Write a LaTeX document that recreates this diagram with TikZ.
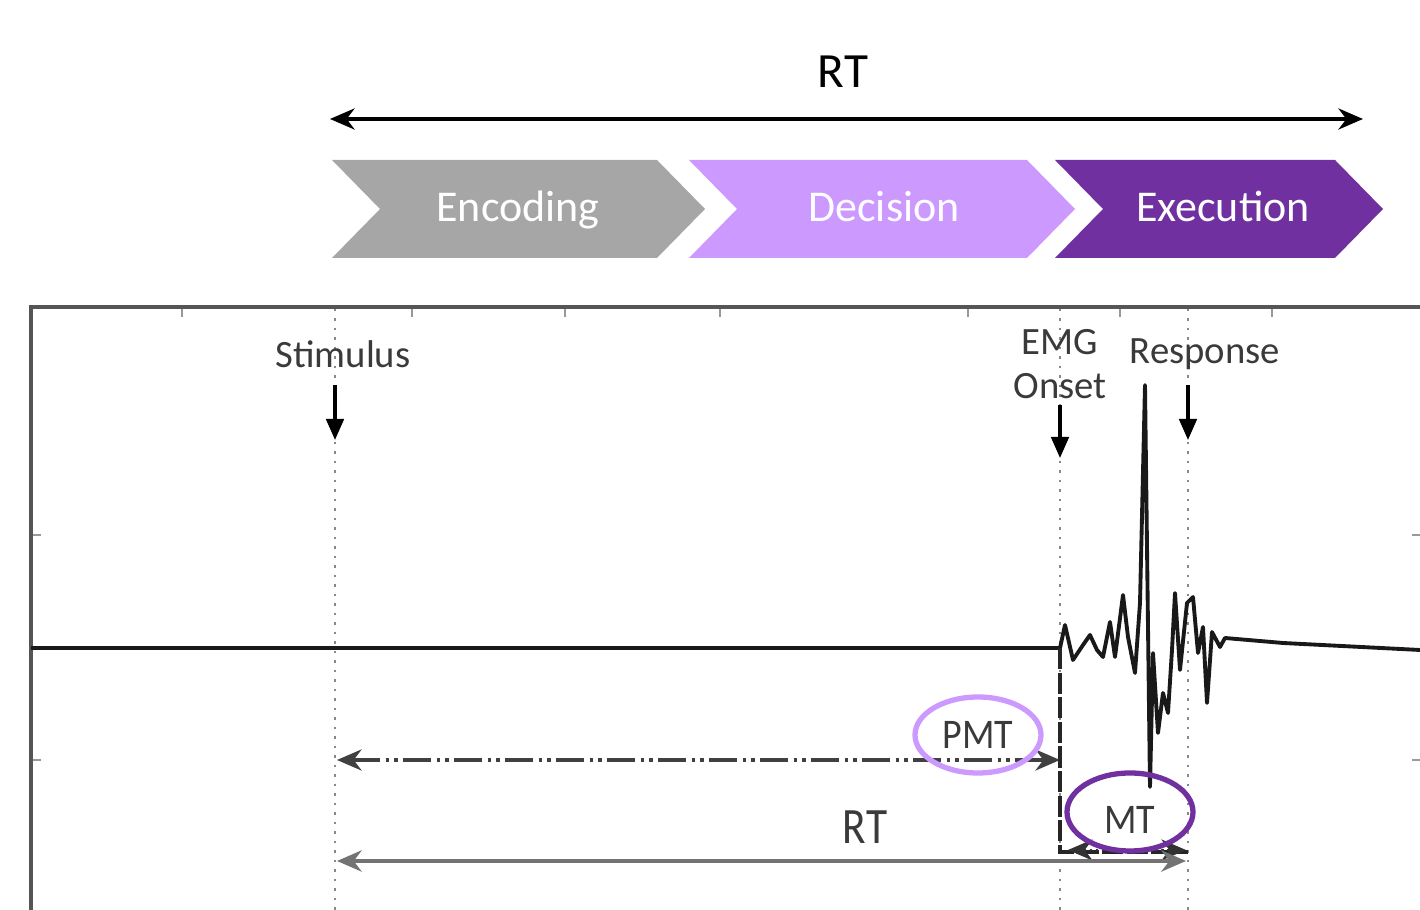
\documentclass[tikz,border=0pt]{standalone}
\usepackage{fontspec}
\setmainfont{Carlito}
\usetikzlibrary{positioning}
\usetikzlibrary{arrows.meta}
\definecolor{encgray}{HTML}{A6A6A6}
\definecolor{declilac}{HTML}{CC99FF}
\definecolor{exepurple}{HTML}{7030A0}
\definecolor{framegray}{HTML}{555555}
\definecolor{labelgray}{HTML}{3A3A3A}

\begin{document}
\begin{tikzpicture}[x=0.01cm, y=-0.01cm,
  phase/.style={text=white, font=\fontsize{12.5}{14}\selectfont},
  marker/.style={text=labelgray, font=\fontsize{11}{12}\selectfont, inner sep=0pt},
  dotline/.style={framegray!70, dotted, line width=0.7pt},
  tickmark/.style={framegray!60, line width=0.5pt},
  downarrow/.style={-{Triangle[length=6pt,width=5pt]}, black, line width=0.9pt},
  span/.style={{Stealth[length=7pt,width=6pt]}-{Stealth[length=7pt,width=6pt]}, line width=1pt}]
\useasboundingbox (0,0) rectangle (1420,910);

%%%%%%%%%%%%     Top RT span   %%%%%%%%%%%%
{
\node (rttop) at (843,72) [font=\fontsize{14}{16}\selectfont]{RT};
\coordinate (rtL) at (330,119);
\coordinate (rtR) at (1363,119);
\draw[span, black, line width=1pt] (rtL)--(rtR);
}

%%%%%%%%%%%%     Phases   %%%%%%%%%%%%
{
\fill[encgray] (332,160)--++(325,0)--++(48,49)--++(-48,49)--++(-325,0)--++(48,-49)--cycle;
\fill[declilac] (689,160)--++(338,0)--++(48,49)--++(-48,49)--++(-338,0)--++(48,-49)--cycle;
\fill[exepurple] (1055,160)--++(280,0)--++(48,49)--++(-48,49)--++(-280,0)--++(48,-49)--cycle;

\node[phase, anchor=base] (enc) at (518,222) {Encoding};
\node[phase, anchor=base] (dec) at (884,222) {Decision};
\node[phase, anchor=base] (exe) at (1223,222) {Execution};
}

%%%%%%%%%%%%     Frame and ticks   %%%%%%%%%%%%
{
\draw[framegray, line width=1pt] (31,910)--(31,307)--(1420,307);
\foreach \tx in {182,412,565,720,968,1120,1272}
  \draw[tickmark] (\tx,309)--++(0,8);
\foreach \ty in {535,760}
  {\draw[tickmark] (33,\ty)--++(8,0);
   \draw[tickmark] (1420,\ty)--++(-8,0);}
}

%%%%%%%%%%%%     Event markers   %%%%%%%%%%%%
{
\draw[dotline] (335,309)--(335,910);
\draw[dotline] (1060,309)--(1060,910);
\draw[dotline] (1188,309)--(1188,910);

\node[marker] (stim) at (343,354) {Stimulus};
\node[marker, align=center, font=\fontsize{11}{12.5}\selectfont] (emg) at (1060,364) {EMG\\Onset};
\node[marker] (resp) at (1205,354) {Response};

\coordinate (stimA) at (335,385);
\coordinate (stimB) at (335,440);
\coordinate (emgA) at (1060,405);
\coordinate (emgB) at (1060,458);
\coordinate (respA) at (1188,385);
\coordinate (respB) at (1188,440);
\draw[downarrow] (stimA)--(stimB);
\draw[downarrow] (emgA)--(emgB);
\draw[downarrow] (respA)--(respB);
}

%%%%%%%%%%%%     EMG trace   %%%%%%%%%%%%
{
\draw[black!90, line width=1.1pt, line join=round] (31,648)--(1060,648)
  --(1065,625)--(1073,660)--(1083,645)--(1090,635)--(1097,650)--(1103,657)
  --(1110,622)--(1115,657)--(1123,595)--(1128,637)--(1135,673)--(1140,603)
  --(1145,385)--(1150,787)--(1153,653)--(1158,733)--(1163,693)--(1168,713)
  --(1172,650)--(1175,593)--(1180,670)--(1187,603)--(1193,597)--(1198,653)
  --(1203,627)--(1207,703)--(1212,632)--(1220,647)--(1225,638)
  --(1283,643)--(1420,650);
}

%%%%%%%%%%%%     Intervals   %%%%%%%%%%%%
{
\coordinate (pmtL) at (337,760);
\coordinate (pmtR) at (1060,760);
\draw[span, black!75, dash pattern=on 8pt off 1.5pt on 1pt off 1.5pt on 1pt off 1.5pt] (pmtL)--(pmtR);

\coordinate (onsetTop) at (1060,648);
\coordinate (onsetFoot) at (1060,852);
\coordinate (respFoot) at (1188,852);
\draw[black!85, line width=0.9pt, dash pattern=on 6pt off 1pt] (onsetTop)--(onsetFoot)--(respFoot);

\coordinate (mtL) at (1068,850);
\coordinate (mtR) at (1186,850);
\draw[span, black!80, line width=0.7pt, densely dotted] (mtL)--(mtR);

\coordinate (rtbL) at (337,861);
\coordinate (rtbR) at (1186,861);
\draw[span, black!55, line width=1.2pt] (rtbL)--(rtbR);

\node[marker, font=\fontsize{14.5}{15}\selectfont, xscale=0.85] (rtlow) at (865,827) {RT};
\node[marker, font=\fontsize{12}{13}\selectfont, xscale=0.9] (pmt) at (978,735) {PMT};
\node[marker, font=\fontsize{12}{13}\selectfont, xscale=0.9] (mt) at (1130,820) {MT};

\draw[declilac, line width=1.5pt] (pmt.center) ellipse [x radius=63, y radius=38];
\draw[exepurple, line width=1.5pt] (1130,812) ellipse [x radius=63, y radius=39];
}

\end{tikzpicture}
\end{document}
